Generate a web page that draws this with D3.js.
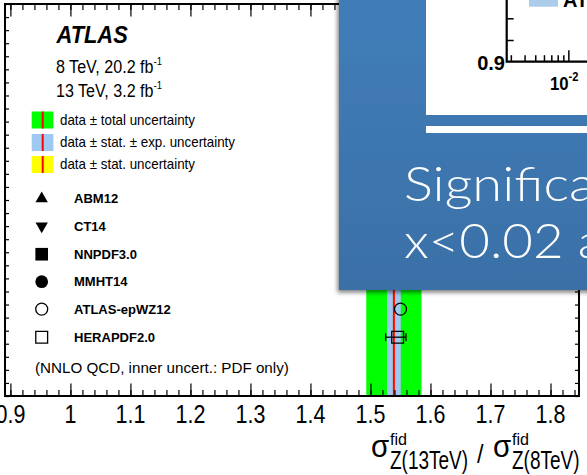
<!DOCTYPE html>
<html>
<head>
<meta charset="utf-8">
<script src="https://cdn.jsdelivr.net/npm/d3@7"></script>
<style>
body { margin: 0; background: #fff; overflow: hidden; }
text { font-family: "Liberation Sans", Arial, Helvetica, sans-serif; }
</style>
</head>
<body>
<div id="chart"></div>
<script>
// ---- data ----
var xTickValues = [0.9, 1.0, 1.1, 1.2, 1.3, 1.4, 1.5, 1.6, 1.7, 1.8];
var xTickLabels = ["0.9", "1", "1.1", "1.2", "1.3", "1.4", "1.5", "1.6", "1.7", "1.8"];

var measCentral = 1.539;
var uncTotal = 0.046;
var uncStatExp = 0.0115;
var uncStat = 0.0015;

var models = ["ABM12", "CT14", "NNPDF3.0", "MMHT14", "ATLAS-epWZ12", "HERAPDF2.0"];
var modelMarkers = ["triUp", "triDown", "square", "circle", "circleOpen", "squareOpen"];
var modelRows = [15.1, 13.0, 10.85, 8.75, 6.65, 4.5];

// only these predictions are visible (others are under the overlay)
var predModels = ["ATLAS-epWZ12", "HERAPDF2.0"];
var predValues = [1.550, 1.5453];
var predErrLow = [1.550, 1.5253];
var predErrHigh = [1.550, 1.5592];

var uncLegend = ["data \u00b1 total uncertainty", "data \u00b1 stat. \u00b1 exp. uncertainty", "data \u00b1 stat. uncertainty"];
var uncColors = ["#00ff00", "#9fc9f3", "#ffff00"];

var W = 587, H = 475;
var svg = d3.select("#chart").append("svg")
    .attr("width", W)
    .attr("height", H);

var x = d3.scaleLinear().domain([0.891, 1.8475]).range([5, 579]);
var y = d3.scaleLinear().domain([0, 30]).range([396, 4]);

function label(g, str, px, py, size, sx, opts) {
    opts = opts || {};
    var t = g.append("text")
        .attr("transform", "translate(" + px + "," + py + ") scale(" + sx + ",1)")
        .style("font-size", size + "px")
        .style("font-weight", opts.weight || "normal")
        .style("font-style", opts.style || "normal")
        .attr("text-anchor", opts.anchor || "start")
        .attr("fill", opts.fill || "#000")
        .text(str);
    return t;
}

function markerPath(type) {
    var sym = d3.symbol();
    if (type == "triUp" || type == "triDown") return sym.type(d3.symbolTriangle).size(66)();
    if (type == "square" || type == "squareOpen") return sym.type(d3.symbolSquare).size(type == "square" ? 160 : 140)();
    return sym.type(d3.symbolCircle).size(type == "circle" ? 127 : 113)();
}

function drawMarker(g, type, cx, cy) {
    var open = type.indexOf("Open") > 0;
    g.append("path")
        .attr("d", markerPath(type))
        .attr("transform", "translate(" + cx + "," + cy + ")" + (type == "triDown" ? " rotate(180)" : ""))
        .attr("fill", open ? "none" : "#000")
        .attr("stroke", "#000")
        .attr("stroke-width", open ? 1.3 : 0);
}

// ---- uncertainty bands ----
var bands = svg.append("g");
[uncTotal, uncStatExp, uncStat].forEach(function(u, i) {
    bands.append("rect")
        .attr("x", x(measCentral - u))
        .attr("width", x(measCentral + u) - x(measCentral - u))
        .attr("y", y(30))
        .attr("height", y(0) - y(30))
        .attr("fill", uncColors[i]);
});
bands.append("line")
    .attr("x1", x(measCentral)).attr("x2", x(measCentral))
    .attr("y1", y(30)).attr("y2", y(0))
    .attr("stroke", "#ff0000").attr("stroke-width", 2);

// ---- predictions ----
var preds = svg.append("g");
predModels.forEach(function(m, i) {
    var row = modelRows[models.indexOf(m)];
    var cy = y(row);
    if (predErrHigh[i] > predErrLow[i]) {
        preds.append("line")
            .attr("x1", x(predErrLow[i])).attr("x2", x(predErrHigh[i]))
            .attr("y1", cy).attr("y2", cy)
            .attr("stroke", "#000").attr("stroke-width", 1.3);
        [predErrLow[i], predErrHigh[i]].forEach(function(v) {
            preds.append("line")
                .attr("x1", x(v)).attr("x2", x(v))
                .attr("y1", cy - 4).attr("y2", cy + 4)
                .attr("stroke", "#000").attr("stroke-width", 1.3);
        });
    }
    drawMarker(preds, modelMarkers[models.indexOf(m)], x(predValues[i]), cy);
});

// ---- frame and axes ----
var minorTicks = d3.range(0.9, 1.85, 0.02).filter(function(v) { return v <= 1.8475; });

svg.append("g")
    .attr("transform", "translate(0," + y(0) + ")")
    .call(d3.axisTop(x).tickValues(minorTicks).tickSize(6).tickFormat(""))
    .call(function(g) { g.select(".domain").remove(); });
svg.append("g")
    .attr("transform", "translate(0," + y(0) + ")")
    .call(d3.axisTop(x).tickValues(xTickValues).tickSize(12.5).tickFormat(""))
    .call(function(g) { g.select(".domain").remove(); });
svg.append("g")
    .attr("transform", "translate(0," + y(30) + ")")
    .call(d3.axisBottom(x).tickValues(minorTicks).tickSize(6).tickFormat(""))
    .call(function(g) { g.select(".domain").remove(); });
svg.append("g")
    .attr("transform", "translate(0," + y(30) + ")")
    .call(d3.axisBottom(x).tickValues(xTickValues).tickSize(12.5).tickFormat(""))
    .call(function(g) { g.select(".domain").remove(); });
svg.append("g")
    .attr("transform", "translate(" + x.range()[0] + ",0)")
    .call(d3.axisRight(y).ticks(30).tickSize(4).tickFormat(""))
    .call(function(g) { g.select(".domain").remove(); });
svg.append("g")
    .attr("transform", "translate(" + x.range()[1] + ",0)")
    .call(d3.axisLeft(y).ticks(30).tickSize(4).tickFormat(""))
    .call(function(g) { g.select(".domain").remove(); });
svg.selectAll(".tick line").attr("stroke", "#000").attr("stroke-width", 1.2);

svg.append("rect")
    .attr("x", x.range()[0]).attr("y", y(30))
    .attr("width", x.range()[1] - x.range()[0])
    .attr("height", y(0) - y(30))
    .attr("fill", "none").attr("stroke", "#000").attr("stroke-width", 2);

var tl = svg.append("g");
xTickValues.forEach(function(v, i) {
    label(tl, xTickLabels[i], x(v), 423, 25, 0.86, { anchor: "middle" });
});

// axis title
var at = svg.append("g");
label(at, "\u03c3", 371, 456.7, 31, 0.95);
label(at, "fid", 390, 445, 17, 0.95);
label(at, "Z(13TeV)", 390, 468.5, 25, 0.76);
label(at, "/", 477, 463, 26, 0.9);
label(at, "\u03c3", 493, 456.7, 31, 0.95);
label(at, "fid", 512, 445, 17, 0.95);
label(at, "Z(8TeV)", 512, 468.5, 25, 0.76);

// ---- legend ----
var lg = svg.append("g");
label(lg, "ATLAS", 56.5, 42.7, 23.5, 0.93, { weight: "bold", style: "italic" });
label(lg, "8 TeV, 20.2 fb", 56, 72.7, 18.5, 0.87)
    .append("tspan").attr("dy", -8).style("font-size", "11px").text("-1");
label(lg, "13 TeV, 3.2 fb", 56, 97.3, 18.5, 0.87)
    .append("tspan").attr("dy", -8).style("font-size", "11px").text("-1");

var swatchRows = [120, 142.5, 164.5];
uncLegend.forEach(function(s, i) {
    lg.append("rect")
        .attr("x", 31.7).attr("y", swatchRows[i] - 8.5)
        .attr("width", 21.7).attr("height", 17)
        .attr("fill", uncColors[i]);
    lg.append("line")
        .attr("x1", 42.7).attr("x2", 42.7)
        .attr("y1", swatchRows[i] - 8.5).attr("y2", swatchRows[i] + 8.5)
        .attr("stroke", "#ff0000").attr("stroke-width", 2);
    label(lg, s, 60, swatchRows[i] + 4.5, 14, 0.955);
});

models.forEach(function(m, i) {
    var cy = y(modelRows[i]);
    drawMarker(lg, modelMarkers[i], 41.7, cy);
    label(lg, m, 74, cy + 4.7, 13.3, 0.98, { weight: "bold" });
});
label(lg, "(NNLO QCD, inner uncert.: PDF only)", 35, 373, 15.5, 0.98);

// ---- slide overlay ----
var defs = svg.append("defs");
var grad = defs.append("linearGradient").attr("id", "boxGrad")
    .attr("x1", 0).attr("y1", 0).attr("x2", 0).attr("y2", 1);
grad.append("stop").attr("offset", "0%").attr("stop-color", "#427eba");
grad.append("stop").attr("offset", "100%").attr("stop-color", "#3a70a7");
var shadow = defs.append("filter").attr("id", "shadow")
    .attr("x", "-10%").attr("y", "-10%").attr("width", "130%").attr("height", "130%");
shadow.append("feDropShadow")
    .attr("dx", -1.5).attr("dy", 2.5).attr("stdDeviation", 2.2)
    .attr("flood-color", "#000").attr("flood-opacity", 0.5);

var ov = svg.append("g");
ov.append("rect")
    .attr("x", 339).attr("y", -20)
    .attr("width", 280).attr("height", 310)
    .attr("fill", "url(#boxGrad)")
    .attr("filter", "url(#shadow)");

ov.append("rect").attr("x", 426).attr("y", -5).attr("width", 200).attr("height", 120).attr("fill", "#fff");
ov.append("rect").attr("x", 426).attr("y", 126).attr("width", 200).attr("height", 7).attr("fill", "#fff");

// inset plot fragment
var insetX = d3.scaleLog().domain([0.00275, 1]).range([506.7, 788.3]);
var insetY = d3.scaleLinear().domain([0.9, 1.0]).range([61.7, -46.8]);
var inset = ov.append("g");
inset.append("g")
    .attr("transform", "translate(0," + insetY(0.9) + ")")
    .call(d3.axisTop(insetX).tickValues([0.003, 0.004, 0.005, 0.006, 0.007, 0.008, 0.009]).tickSize(6.5).tickFormat(""))
    .call(function(g) { g.select(".domain").remove(); });
inset.append("g")
    .attr("transform", "translate(0," + insetY(0.9) + ")")
    .call(d3.axisTop(insetX).tickValues([0.01, 0.1]).tickSize(11.5).tickFormat(""))
    .call(function(g) { g.select(".domain").remove(); });
inset.append("g")
    .attr("transform", "translate(" + insetX(0.00275) + ",0)")
    .call(d3.axisRight(insetY).tickValues([0.92, 0.94]).tickSize(7).tickFormat(""))
    .call(function(g) { g.select(".domain").remove(); });
inset.selectAll(".tick line").attr("stroke", "#000").attr("stroke-width", 1.5);
inset.append("path")
    .attr("d", "M" + insetX(0.00275) + "," + (insetY(1.0) - 10) + "V" + insetY(0.9) + "H" + 600)
    .attr("fill", "none").attr("stroke", "#000").attr("stroke-width", 2.2);
label(inset, "0.9", 505, 70, 20, 1, { weight: "bold", anchor: "end" });
label(inset, "10", 550, 90, 18, 0.93, { weight: "bold" })
    .append("tspan").attr("dy", -9).style("font-size", "12px").text("-2");
inset.append("rect").attr("x", 529).attr("y", -4).attr("width", 29).attr("height", 10.7).attr("fill", "#abcdeb");
label(inset, "ATLAS-epWZ16", 563, 6.5, 20, 1, { weight: "bold" });

// overlay text
var ot = ov.append("g");
label(ot, "Significant", 404, 201, 48, 1.13, { fill: "#fdfdfd", weight: 300 }).style("font-family", "Lato, 'Open Sans', sans-serif");
label(ot, "x<0.02 and", 404, 258.3, 48, 1.1, { fill: "#fdfdfd", weight: 300 }).style("font-family", "Lato, 'Open Sans', sans-serif");
</script>
</body>
</html>
